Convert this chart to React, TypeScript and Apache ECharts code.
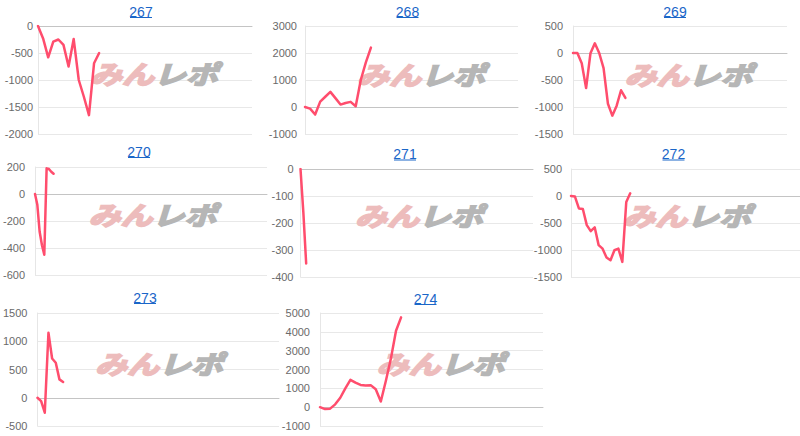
import React, { useEffect, useRef } from 'react';
import * as echarts from 'echarts';

// ---- data ----
const titles = ['267', '268', '269', '270', '271', '272', '273', '274'];
const v267 = [0, -230, -580, -290, -250, -350, -750, -240, -1000, -1310, -1650, -690, -500];
const v268 = [0, -60, -280, 200, 380, 560, 330, 90, 150, 190, 30, 1000, 1650, 2200];
const v269 = [0, 0, -190, -650, -5, 180, 0, -280, -940, -1160, -975, -690, -830];
const v270 = [0, -80, -280, -380, -450, 190, 185, 165, 150];
const v271 = [0, -160, -350];
const v272 = [0, -10, -230, -240, -540, -650, -580, -910, -975, -1140, -1190, -1005, -975, -1220, -110, 50];
const v273 = [0, -60, -265, 1150, 695, 620, 325, 280];
const v274 = [0, -100, -80, 150, 500, 1000, 1450, 1300, 1180, 1150, 1170, 950, 300, 1400, 2600, 4060, 4770];
const seriesValues = [v267, v268, v269, v270, v271, v272, v273, v274];
const slotCounts = [43, 43, 50, 101, 83, 59, 67, 45];
const yMins = [-2000, -1000, -1500, -600, -400, -1500, -500, -1000];
const yMaxs = [0, 3000, 500, 200, 0, 500, 1500, 5000];
const ySteps = [500, 1000, 500, 200, 100, 500, 500, 1000];
const watermarkA = 'みん';
const watermarkB = 'レポ';

// ---- layout (positions / styles) ----
const layout = [
  { l: 38, t: 26, w: 214, h: 108, tx: 141, ty: 11.5, wx: 154, wy: 73, m: 5 },
  { l: 305, t: 26, w: 213, h: 108, tx: 407.5, ty: 11.5, wx: 421, wy: 74, m: 8 },
  { l: 573, t: 26, w: 214, h: 108, tx: 675, ty: 11.5, wx: 688.5, wy: 73.5, m: 10 },
  { l: 34, t: 167, w: 233, h: 108, tx: 139, ty: 151.5, wx: 152.5, wy: 213.5, m: 10 },
  { l: 300.5, t: 169, w: 232.5, h: 108, tx: 405, ty: 154, wx: 419, wy: 215, m: 7 },
  { l: 571, t: 169, w: 230, h: 108, tx: 673.5, ty: 154, wx: 687, wy: 215, m: 9 },
  { l: 35, t: 313, w: 244, h: 113, tx: 145, ty: 297.5, wx: 159, wy: 362.5, m: 10 },
  { l: 320, t: 313, w: 223, h: 113, tx: 425.5, ty: 298.5, wx: 440.5, wy: 362.5, m: 10 },
];

const FONT = '"Liberation Sans", Arial, sans-serif';
const WM_FONT = '"Noto Sans CJK JP", sans-serif';
const LINE_COLOR = '#ff4d6d';
const TITLE_COLOR = '#1a66c8';
const WM_PINK = '#edbcbc';
const WM_GRAY = '#b6b6b6';

export default function App() {
  const ref = useRef<HTMLDivElement>(null);
  useEffect(() => {
    if (!ref.current) return;
    const chart = echarts.init(ref.current, undefined, { renderer: 'svg' });
    const grids: any[] = [];
    const xAxes: any[] = [];
    const yAxes: any[] = [];
    const series: any[] = [];
    const graphics: any[] = [];

    titles.forEach((title, i) => {
      const L = layout[i];
      grids.push({ left: L.l, top: L.t, width: L.w, height: L.h, containLabel: false });
      xAxes.push({
        type: 'category',
        gridIndex: i,
        boundaryGap: false,
        data: Array.from({ length: slotCounts[i] }, (_, k) => String(k + 1)),
        axisLine: { show: true, onZero: true, lineStyle: { color: '#c4c4c4', width: 1 } },
        axisTick: { show: false },
        axisLabel: { show: false },
        splitLine: { show: false },
      });
      yAxes.push({
        type: 'value',
        gridIndex: i,
        min: yMins[i],
        max: yMaxs[i],
        interval: ySteps[i],
        axisLine: { show: true, lineStyle: { color: '#e6e6e6', width: 1 } },
        axisTick: { show: false },
        axisLabel: {
          color: '#6a6a6a',
          fontSize: 11,
          fontFamily: FONT,
          margin: L.m,
          formatter: (v: number) => String(v),
        },
        splitLine: { show: true, lineStyle: { color: '#e8e8e8', width: 1 } },
      });
      series.push({
        type: 'line',
        xAxisIndex: i,
        yAxisIndex: i,
        data: seriesValues[i],
        showSymbol: false,
        symbol: 'none',
        lineStyle: { color: LINE_COLOR, width: 2.5, join: 'round', cap: 'round' },
        itemStyle: { color: LINE_COLOR },
        z: 3,
      });
      // watermark
      const wmRich = (c: string) => ({
        fill: c,
        stroke: c,
        lineWidth: 2.2,
        fontSize: 32,
        fontWeight: 'bold',
        fontStyle: 'italic',
        fontFamily: WM_FONT,
      });
      graphics.push({
        type: 'text',
        x: L.wx,
        y: L.wy,
        scaleY: 0.8,
        z: 1,
        silent: true,
        style: {
          text: `{a|${watermarkA}}{b|${watermarkB}}`,
          align: 'center',
          verticalAlign: 'middle',
          fontSize: 32,
          fontWeight: 'bold',
          fontStyle: 'italic',
          fontFamily: WM_FONT,
          rich: { a: wmRich(WM_PINK), b: wmRich(WM_GRAY) },
        },
      });
      // title
      graphics.push({
        type: 'text',
        x: L.tx,
        y: L.ty,
        style: {
          text: title,
          align: 'center',
          verticalAlign: 'middle',
          fontSize: 14,
          fontFamily: FONT,
          fill: TITLE_COLOR,
        },
      });
      graphics.push({
        type: 'line',
        shape: { x1: L.tx - 11, y1: L.ty + 6, x2: L.tx + 11, y2: L.ty + 6 },
        style: { stroke: TITLE_COLOR, lineWidth: 1 },
      });
    });

    chart.setOption({
      animation: false,
      backgroundColor: '#ffffff',
      grid: grids,
      xAxis: xAxes,
      yAxis: yAxes,
      series,
      graphic: graphics,
    });
    return () => chart.dispose();
  }, []);
  return (
    <div
      ref={ref}
      style={{ position: 'fixed', left: 0, top: 0, width: 800, height: 436, background: '#fff' }}
    />
  );
}
